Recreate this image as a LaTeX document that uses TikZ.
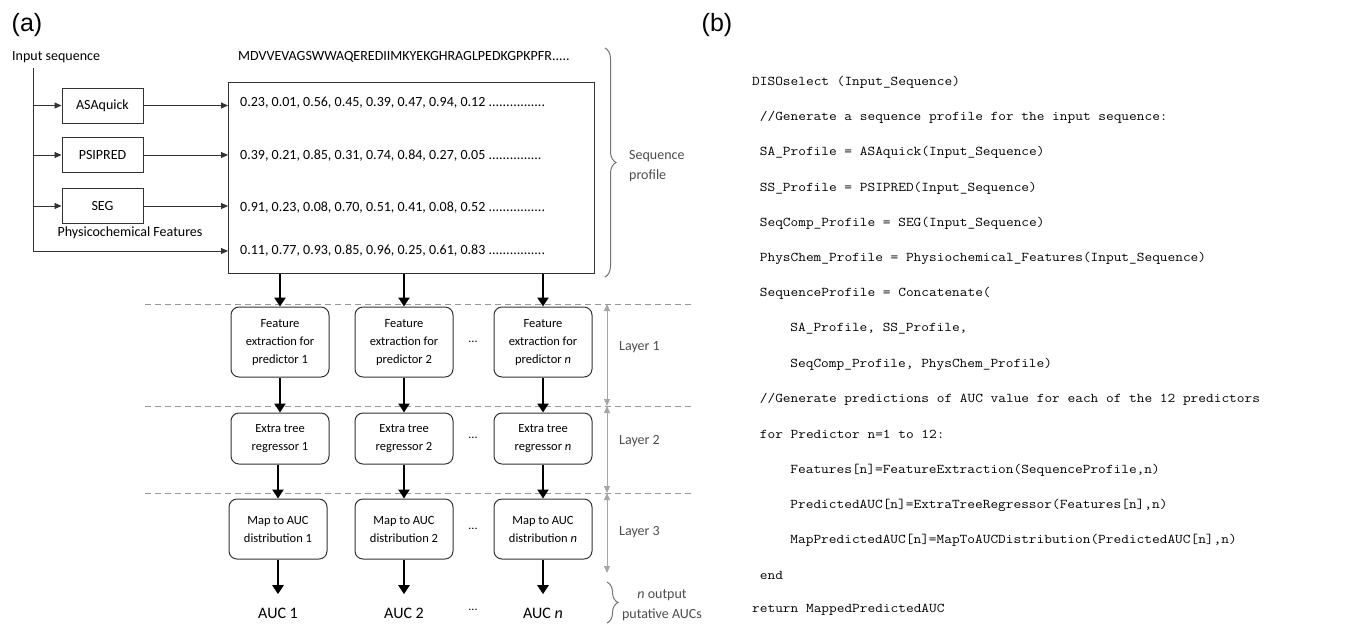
\documentclass[tikz,border=0pt]{standalone}
\usepackage{fontspec}
\setmainfont{Carlito}
\newfontfamily\codefont[FakeStretch=1.115]{Latin Modern Mono}
\newfontfamily\panelfont{Liberation Sans}
\usetikzlibrary{arrows.meta,decorations.pathreplacing}

\begin{document}
\begin{tikzpicture}[x=1pt,y=-1pt,
    tool/.style={draw=black!80,line width=1pt,minimum width=81pt,minimum height=35pt,inner sep=0pt,font=\fontsize{14}{16}\selectfont},
    stage/.style={draw=black!80,line width=1pt,rounded corners=8pt,minimum width=98pt,inner sep=0pt,align=center,font=\fontsize{12.5}{18}\selectfont},
    val/.style={anchor=west,inner sep=0pt,font=\fontsize{14}{16}\selectfont},
    code/.style={anchor=west,inner sep=0pt,font=\codefont\fontsize{13.4}{15}\selectfont},
    side/.style={text=black!70,align=center,inner sep=0pt,font=\fontsize{14}{20}\selectfont},
    feed/.style={-{Triangle[length=7pt,width=6pt]},line width=0.9pt,black!80},
    flow/.style={-{Triangle[length=9pt,width=11pt]},line width=2.6pt},
    sep/.style={black!40,line width=1pt,dash pattern=on 6pt off 4pt},
    span/.style={{Triangle[length=7pt,width=6pt]}-{Triangle[length=7pt,width=6pt]},black!35,line width=1pt},
    curly/.style={decorate,decoration={brace,amplitude=11pt},black!55,line width=1pt}]
  \useasboundingbox (0,0) rectangle (1367,625);

  % (a) inputs
  \node[font=\panelfont\fontsize{25}{25}\selectfont] (pa) at (27,25) {(a)};
  \node[anchor=west,inner sep=0pt,font=\fontsize{14}{16}\selectfont] (inp) at (12,57) {Input sequence};
  \node[val] (seq) at (238,57) {MDVVEVAGSWWAQEREDIIMKYEKGHRAGLPEDKGPKPFR.....};
  \node[tool] (asa) at (102.5,105.5) {ASAquick};
  \node[tool] (psi) at (102.5,155) {PSIPRED};
  \node[tool] (seg) at (102.5,206) {SEG};
  \node[inner sep=0pt,font=\fontsize{14}{16}\selectfont] (phys) at (130,233) {Physicochemical Features};
  \node[draw=black!80,line width=1pt,anchor=north west,minimum width=366pt,minimum height=191pt,inner sep=0pt] (prof) at (228,82) {};
  \node[val] (r1) at (240,103) {0.23, 0.01, 0.56, 0.45, 0.39, 0.47, 0.94, 0.12 ................};
  \node[val] (r2) at (240,156) {0.39, 0.21, 0.85, 0.31, 0.74, 0.84, 0.27, 0.05 ...............};
  \node[val] (r3) at (240,208) {0.91, 0.23, 0.08, 0.70, 0.51, 0.41, 0.08, 0.52 ................};
  \node[val] (r4) at (240,251) {0.11, 0.77, 0.93, 0.85, 0.96, 0.25, 0.61, 0.83 ................};
  \coordinate (top) at (33,68);
  \begin{scope}
    \draw[black!80,line width=0.9pt] (top) -- (top |- r4);
    \draw[feed] (top |- asa) -- (asa.west);
    \draw[feed] (top |- psi) -- (psi.west);
    \draw[feed] (top |- seg) -- (seg.west);
    \draw[feed] (top |- r4) -- (prof.west |- r4);
    \draw[feed] (asa.east) -- (prof.west |- asa);
    \draw[feed] (psi.east) -- (prof.west |- psi);
    \draw[feed] (seg.east) -- (prof.west |- seg);
  \end{scope}
  \draw[curly] (605,48) -- (605,277);
  \node[side,anchor=west,align=left] (prl) at (629,166) {Sequence\\profile};

  % (a) layers
  \draw[sep] (145,304) -- (693,304);
  \draw[sep] (145,406) -- (693,406);
  \draw[sep] (145,493) -- (693,493);
  \node[stage,minimum height=70pt] (f1) at (280,342) {Feature\\extraction for\\predictor 1};
  \node[stage,minimum height=70pt] (f2) at (404,342) {Feature\\extraction for\\predictor 2};
  \node[stage,minimum height=70pt] (f3) at (543,342) {Feature\\extraction for\\predictor \textit{n}};
  \node[stage,minimum height=51pt] (e1) at (280,438.5) {Extra tree\\regressor 1};
  \node[stage,minimum height=51pt] (e2) at (404,438.5) {Extra tree\\regressor 2};
  \node[stage,minimum height=51pt] (e3) at (543,438.5) {Extra tree\\regressor \textit{n}};
  \node[stage,minimum height=60pt] (m1) at (278,529) {Map to AUC\\distribution 1};
  \node[stage,minimum height=60pt] (m2) at (404,529) {Map to AUC\\distribution 2};
  \node[stage,minimum height=60pt] (m3) at (543,529) {Map to AUC\\distribution \textit{n}};
  \node[font=\fontsize{16}{18}\selectfont] (a1) at (278,613) {AUC 1};
  \node[font=\fontsize{16}{18}\selectfont] (a2) at (404,613) {AUC 2};
  \node[font=\fontsize{16}{18}\selectfont] (a3) at (543,613) {AUC \textit{n}};
  \node[font=\fontsize{12}{14}\selectfont] (d1) at (473,342) {...};
  \node[font=\fontsize{12}{14}\selectfont] (d2) at (473,438) {...};
  \node[font=\fontsize{12}{14}\selectfont] (d3) at (473,529) {...};
  \node[font=\fontsize{12}{14}\selectfont] (d4) at (473,610) {...};
  \begin{scope}[flow]
    \draw (prof.south -| f1) -- (f1.north);
    \draw (prof.south -| f2) -- (f2.north);
    \draw (prof.south -| f3) -- (f3.north);
    \draw (f1) -- (e1);
    \draw (f2) -- (e2);
    \draw (f3) -- (e3);
    \draw (e1.south -| m1) -- (m1);
    \draw (e2) -- (m2);
    \draw (e3) -- (m3);
    \draw[shorten >=10pt] (m1) -- (a1);
    \draw[shorten >=10pt] (m2) -- (a2);
    \draw[shorten >=10pt] (m3) -- (a3);
  \end{scope}
  \coordinate (l0) at (607,304);
  \coordinate (l1) at (607,406);
  \coordinate (l2) at (607,493);
  \coordinate (l3) at (607,573);
  \draw[span] (l0) -- (l1);
  \draw[span] (l1) -- (l2);
  \draw[span] (l2) -- (l3);
  \node[side,anchor=west] (lay1) at (619,347) {Layer 1};
  \node[side,anchor=west] (lay2) at (619,441) {Layer 2};
  \node[side,anchor=west] (lay3) at (619,532) {Layer 3};
  \draw[curly] (607,582) -- (607,623);
  \node[side] (outl) at (662,605) {\textit{n} output\\putative AUCs};

  % (b) pseudocode
  \node[font=\panelfont\fontsize{25}{25}\selectfont] (pb) at (717,25) {(b)};
  \node[code] (c1) at (752,82) {DISOselect (Input\_Sequence)};
  \node[code] (c2) at (759.65,117) {//Generate a sequence profile for the input sequence:};
  \node[code] (c3) at (759.65,152.5) {SA\_Profile = ASAquick(Input\_Sequence)};
  \node[code] (c4) at (759.65,188) {SS\_Profile = PSIPRED(Input\_Sequence)};
  \node[code] (c5) at (759.65,223) {SeqComp\_Profile = SEG(Input\_Sequence)};
  \node[code] (c6) at (759.65,258) {PhysChem\_Profile = Physiochemical\_Features(Input\_Sequence)};
  \node[code] (c7) at (759.65,293) {SequenceProfile = Concatenate(};
  \node[code] (c8) at (790.25,329) {SA\_Profile, SS\_Profile,};
  \node[code] (c9) at (790.25,364) {SeqComp\_Profile, PhysChem\_Profile)};
  \node[code] (c10) at (759.65,399) {//Generate predictions of AUC value for each of the 12 predictors};
  \node[code] (c11) at (759.65,434) {for Predictor n=1 to 12:};
  \node[code] (c12) at (790.25,470) {Features[n]=FeatureExtraction(SequenceProfile,n)};
  \node[code] (c13) at (790.25,505) {PredictedAUC[n]=ExtraTreeRegressor(Features[n],n)};
  \node[code] (c14) at (790.25,540) {MapPredictedAUC[n]=MapToAUCDistribution(PredictedAUC[n],n)};
  \node[code] (c15) at (759.65,575) {end};
  \node[code] (c16) at (752,610) {return MappedPredictedAUC};
\end{tikzpicture}
\end{document}
